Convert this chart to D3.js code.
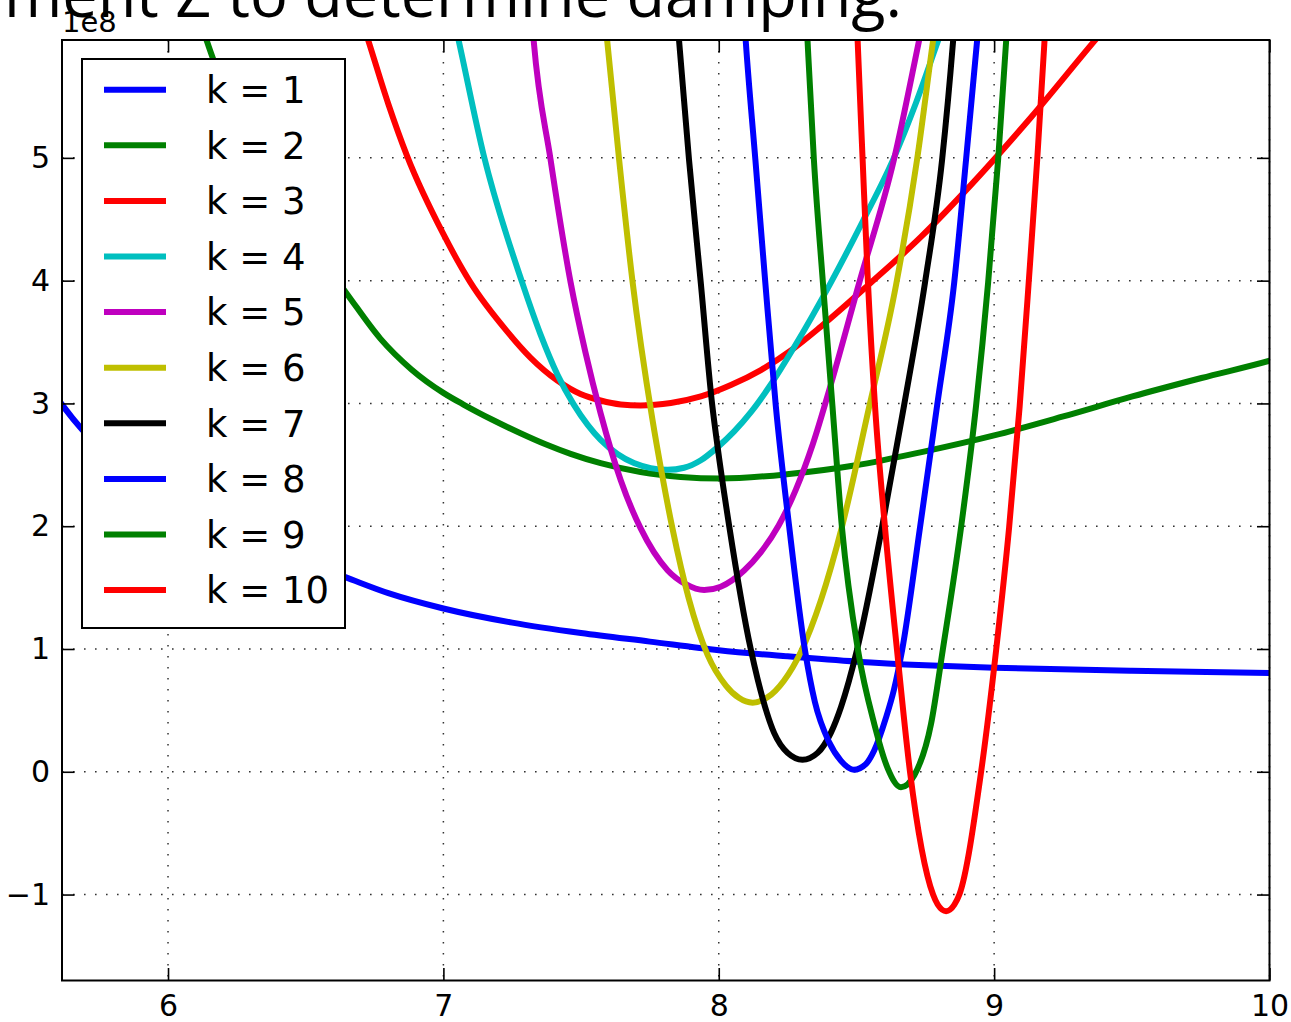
<!DOCTYPE html>
<html>
<head>
<meta charset="utf-8">
<script src="https://cdn.jsdelivr.net/npm/d3@7"></script>
<style>
  html, body { margin: 0; padding: 0; background: #fff; }
  svg { display: block; }
</style>
</head>
<body>
<svg id="chart" width="1291" height="1022"></svg>
<script>
// ---------------- data (y values are in units of 1e8) ----------------
const seriesLabels = ["k = 1", "k = 2", "k = 3", "k = 4", "k = 5",
                      "k = 6", "k = 7", "k = 8", "k = 9", "k = 10"];
const seriesColors = ["#0000ff", "#008000", "#ff0000", "#00bfbf", "#bf00bf",
                      "#bfbf00", "#000000", "#0000ff", "#008000", "#ff0000"];

const k1 = [[5.58,3.10],[5.615,2.99],[5.687,2.79],[5.8,2.55],[6.0,2.24],[6.2,2.0],[6.4,1.79],
            [6.644,1.585],[6.8,1.455],[7.0,1.33],[7.25,1.215],[7.5,1.13],[7.75,1.06],[8.0,0.99],
            [8.25,0.94],[8.5,0.897],[8.75,0.868],[9.0,0.848],[9.5,0.822],[10.0,0.805],[10.05,0.803]];
const k2 = [[6.116,6.11],[6.141,5.951],[6.164,5.805],[6.298,5.12],[6.48,4.42],[6.65,3.892],
            [6.771,3.528],[6.884,3.277],[7.0,3.086],[7.073,2.991],[7.178,2.867],[7.28,2.757],
            [7.371,2.667],[7.462,2.589],[7.571,2.513],[7.716,2.441],[7.862,2.401],[8.007,2.388],
            [8.247,2.423],[8.498,2.496],[8.749,2.61],[9.0,2.74],[9.251,2.894],[9.502,3.057],
            [9.753,3.207],[10.004,3.35],[10.05,3.38]];
const k3 = [[6.706,6.106],[6.728,5.951],[6.8,5.439],[6.868,5.016],[7.001,4.374],[7.098,3.986],
            [7.232,3.585],[7.316,3.374],[7.414,3.187],[7.498,3.077],[7.571,3.024],[7.644,2.992],
            [7.716,2.984],[7.826,3.004],[7.935,3.057],[8.044,3.15],[8.153,3.272],[8.262,3.431],
            [8.371,3.626],[8.553,3.984],[8.735,4.358],[8.916,4.78],[9.135,5.333],[9.364,5.951],
            [9.426,6.114]];
const k4 = [[7.04,6.114],[7.056,5.951],[7.147,5.016],[7.286,3.986],[7.353,3.561],[7.414,3.236],
            [7.473,2.992],[7.524,2.825],[7.571,2.703],[7.632,2.588],[7.692,2.514],[7.753,2.473],
            [7.814,2.459],[7.874,2.476],[7.935,2.537],[7.995,2.642],[8.056,2.772],[8.116,2.927],
            [8.189,3.154],[8.273,3.455],[8.407,3.984],[8.524,4.488],[8.636,5.0],[8.716,5.447],
            [8.796,5.951],[8.822,6.114]];
const k5 = [[7.322,6.114],[7.328,5.951],[7.389,4.989],[7.462,3.986],[7.516,3.415],[7.571,2.919],
            [7.644,2.374],[7.716,1.984],[7.814,1.642],[7.88,1.528],[7.947,1.48],[8.007,1.507],
            [8.092,1.639],[8.153,1.789],[8.218,2.008],[8.28,2.298],[8.342,2.672],[8.407,3.154],
            [8.509,3.974],[8.636,4.984],[8.727,5.951],[8.742,6.114]];
const k6 = [[7.588,6.114],[7.595,5.951],[7.638,4.989],[7.686,4.009],[7.759,2.871],[7.793,2.433],
            [7.832,1.98],[7.891,1.411],[7.959,0.954],[8.026,0.702],[8.073,0.602],[8.123,0.563],
            [8.177,0.606],[8.236,0.74],[8.298,0.976],[8.371,1.398],[8.447,1.992],[8.545,2.959],
            [8.644,3.967],[8.72,4.984],[8.778,5.951],[8.788,6.114]];
const k7 = [[7.849,6.13],[7.856,5.951],[7.892,4.984],[7.935,3.976],[7.976,2.992],[7.995,2.659],
            [8.038,2.0],[8.116,1.0],[8.141,0.756],[8.201,0.317],[8.25,0.154],[8.304,0.098],
            [8.359,0.154],[8.407,0.317],[8.444,0.528],[8.502,0.992],[8.593,1.992],[8.673,2.984],
            [8.749,3.984],[8.811,4.984],[8.851,5.951],[8.858,6.15]];
const k8 = [[8.092,6.15],[8.098,5.951],[8.133,4.984],[8.169,3.984],[8.207,2.984],[8.256,1.992],
            [8.313,0.992],[8.349,0.569],[8.4,0.244],[8.444,0.089],[8.49,0.016],[8.535,0.065],
            [8.564,0.171],[8.607,0.439],[8.636,0.667],[8.666,0.992],[8.731,1.992],[8.793,2.984],
            [8.855,3.984],[8.898,4.984],[8.938,5.951],[8.946,6.15]];
const k9 = [[8.318,6.15],[8.3225,5.951],[8.3455,4.984],[8.3782,3.984],[8.4127,2.984],[8.4473,1.992],
            [8.5055,0.992],[8.5647,0.39],[8.6135,0.028],[8.6618,-0.126],[8.7102,-0.028],[8.7709,0.39],
            [8.8135,0.992],[8.88,1.992],[8.9345,2.984],[8.9782,3.984],[9.0145,4.984],[9.0436,5.951],
            [9.05,6.15]];
const k10 = [[8.501,6.15],[8.5044,5.951],[8.5225,4.984],[8.5418,3.984],[8.5673,2.984],[8.6036,1.992],
             [8.6473,0.992],[8.6945,0.0],[8.7782,-1.0],[8.795,-1.081],[8.8255,-1.135],[8.856,-1.081],
             [8.8738,-1.0],[8.9527,0.0],[9.0073,0.992],[9.0545,1.992],[9.0927,2.976],[9.1255,3.984],
             [9.1564,4.984],[9.1829,5.951],[9.188,6.15]];

const allSeries = [k1, k2, k3, k4, k5, k6, k7, k8, k9, k10];

const xTicks = [6, 7, 8, 9, 10];
const yTicks = [-1, 0, 1, 2, 3, 4, 5];
const xDomain = [5.615, 10];
const yDomain = [-1.70, 5.96];
const yOffsetLabel = "1e8";
const headingText = "ment Z to determine damping.";

// ---------------- layout ----------------
const W = 1291, H = 1022;
const plot = { left: 62, top: 40, right: 1269.5, bottom: 980.5 };
const tickLen = 12.5;
const tickFont = "DejaVu Sans, sans-serif";
const curveWidth = 6;

const svg = d3.select("#chart");

const x = d3.scaleLinear().domain(xDomain).range([plot.left, plot.right]);
const y = d3.scaleLinear().domain(yDomain).range([plot.bottom, plot.top]);

svg.append("rect").attr("width", W).attr("height", H).attr("fill", "#fff");

svg.append("defs").append("clipPath").attr("id", "plotClip")
  .append("rect")
  .attr("x", plot.left).attr("y", plot.top)
  .attr("width", plot.right - plot.left).attr("height", plot.bottom - plot.top);

// ---------------- grid (dotted) ----------------
const grid = svg.append("g").attr("class", "grid")
  .attr("stroke", "#000").attr("stroke-width", 1.5)
  .attr("stroke-dasharray", "1.6,9.4").attr("opacity", 0.8);

grid.selectAll("line.gx").data(xTicks).join("line").attr("class", "gx")
  .attr("x1", d => x(d)).attr("x2", d => x(d))
  .attr("y1", plot.top).attr("y2", plot.bottom);
grid.selectAll("line.gy").data(yTicks).join("line").attr("class", "gy")
  .attr("x1", plot.left).attr("x2", plot.right)
  .attr("y1", d => y(d)).attr("y2", d => y(d));

// ---------------- curves ----------------
const line = d3.line()
  .x(d => x(d[0]))
  .y(d => y(d[1]))
  .curve(d3.curveMonotoneX);

svg.append("g").attr("clip-path", "url(#plotClip)")
  .selectAll("path").data(allSeries).join("path")
  .attr("d", line)
  .attr("fill", "none")
  .attr("stroke", (d, i) => seriesColors[i])
  .attr("stroke-width", curveWidth)
  .attr("stroke-linejoin", "round");

// ---------------- axes (ticks inside, on all four sides) ----------------
const fmt = d3.format("d");

const gx = svg.append("g")
  .attr("transform", `translate(0,${plot.bottom})`)
  .call(d3.axisBottom(x).tickValues(xTicks).tickFormat(fmt)
        .tickSizeInner(-tickLen).tickSizeOuter(0).tickPadding(14));
const gy = svg.append("g")
  .attr("transform", `translate(${plot.left},0)`)
  .call(d3.axisLeft(y).tickValues(yTicks).tickFormat(fmt)
        .tickSizeInner(-tickLen).tickSizeOuter(0).tickPadding(12));
const gt = svg.append("g")
  .attr("transform", `translate(0,${plot.top})`)
  .call(d3.axisTop(x).tickValues(xTicks).tickFormat("")
        .tickSizeInner(-tickLen).tickSizeOuter(0));
const gr = svg.append("g")
  .attr("transform", `translate(${plot.right},0)`)
  .call(d3.axisRight(y).tickValues(yTicks).tickFormat("")
        .tickSizeInner(-tickLen).tickSizeOuter(0));

[gx, gy, gt, gr].forEach(g => {
  g.select(".domain").remove();
  g.selectAll(".tick line").attr("stroke", "#000").attr("stroke-width", 1.6);
  g.selectAll(".tick text")
    .attr("fill", "#000")
    .style("font-family", tickFont)
    .style("font-size", "30px");
});

// frame
svg.append("rect")
  .attr("x", plot.left).attr("y", plot.top)
  .attr("width", plot.right - plot.left).attr("height", plot.bottom - plot.top)
  .attr("fill", "none").attr("stroke", "#000").attr("stroke-width", 2);

// scale factor label above the y axis
svg.append("text")
  .attr("x", plot.left).attr("y", 32)
  .attr("fill", "#000")
  .style("font-family", tickFont).style("font-size", "29px")
  .text(yOffsetLabel);

// ---------------- legend ----------------
const legend = { x: 82, y: 59, w: 263, h: 569, firstRow: 89.7, rowStep: 55.6,
                 lineX1: 104, lineX2: 166, textX: 206 };
const lg = svg.append("g").attr("class", "legend");
lg.append("rect")
  .attr("x", legend.x).attr("y", legend.y)
  .attr("width", legend.w).attr("height", legend.h)
  .attr("fill", "#fff").attr("stroke", "#000").attr("stroke-width", 2);

const rows = lg.selectAll("g.row").data(seriesLabels).join("g").attr("class", "row")
  .attr("transform", (d, i) => `translate(0,${legend.firstRow + i * legend.rowStep})`);
rows.append("line")
  .attr("x1", legend.lineX1).attr("x2", legend.lineX2)
  .attr("stroke", (d, i) => seriesColors[i]).attr("stroke-width", curveWidth);
rows.append("text")
  .attr("x", legend.textX).attr("dy", "0.36em")
  .attr("fill", "#000")
  .style("font-family", tickFont).style("font-size", "37px")
  .style("white-space", "pre")
  .text(d => d);

// ---------------- slide text running above the chart ----------------
svg.append("text")
  .attr("x", 4).attr("y", 17)
  .attr("fill", "#000")
  .style("font-family", "Open Sans, sans-serif").style("font-size", "63px")
  .text(headingText);
</script>
</body>
</html>
